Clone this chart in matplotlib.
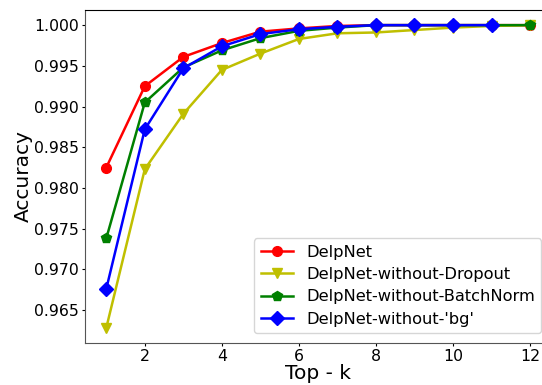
import numpy as np
import matplotlib
matplotlib.use("Agg")
import matplotlib.pyplot as plt

# top-k accuracy
k_all  = [1, 2, 3, 4, 5, 6, 7, 8, 9, 10, 11, 12]
k_bg   = [1, 2, 3, 4, 5, 6, 7, 8, 9, 10, 11]

acc_delpnet    = [0.9825, 0.9925, 0.9961, 0.9978, 0.9992, 0.9996, 0.9999, 1.0, 1.0, 1.0, 1.0, 1.0]
acc_no_dropout = [0.9628, 0.9823, 0.9891, 0.9945, 0.9965, 0.9983, 0.9990, 0.9991, 0.9994, 0.9997, 0.9999, 1.0]
acc_no_bn      = [0.9738, 0.9905, 0.9948, 0.9969, 0.9984, 0.9993, 0.9997, 1.0, 1.0, 1.0, 1.0, 1.0]
acc_no_bg      = [0.9676, 0.9872, 0.9947, 0.9974, 0.9989, 0.9995, 0.9998, 1.0, 1.0, 1.0, 1.0]

fig = plt.figure(figsize=(5.42, 3.85), dpi=100)
ax  = fig.add_axes([0.157, 0.109, 0.86, 0.865])

lw, ms = 1.8, 7
ax.plot(k_all, acc_delpnet,    'o-', color='r', lw=lw, ms=ms, label='DelpNet')
ax.plot(k_all, acc_no_dropout, 'v-', color='y', lw=lw, ms=ms, label='DelpNet-without-Dropout')
ax.plot(k_all, acc_no_bn,      'p-', color='g', lw=lw, ms=ms, label='DelpNet-without-BatchNorm')
ax.plot(k_bg,  acc_no_bg,      'D-', color='b', lw=lw, ms=ms, label="DelpNet-without-'bg'")

ax.set_xticks([2, 4, 6, 8, 10, 12])
ax.set_yticks(np.arange(0.965, 1.0001, 0.005))
ax.yaxis.set_major_formatter(matplotlib.ticker.FormatStrFormatter('%.3f'))
ax.tick_params(labelsize=11.3, length=2.5, pad=1.8)

ax.spines['left'].set_color('#555555')
ax.spines['bottom'].set_color('#555555')
ax.spines['right'].set_visible(False)

ax.set_xlabel('Top - k', fontsize=14.5, labelpad=0)
ax.set_ylabel('Accuracy', fontsize=14.5, labelpad=1)

ax.legend(loc='lower right', fontsize=11.7, labelspacing=0.45, borderaxespad=0.6)

fig.savefig('out.png', dpi=100)
